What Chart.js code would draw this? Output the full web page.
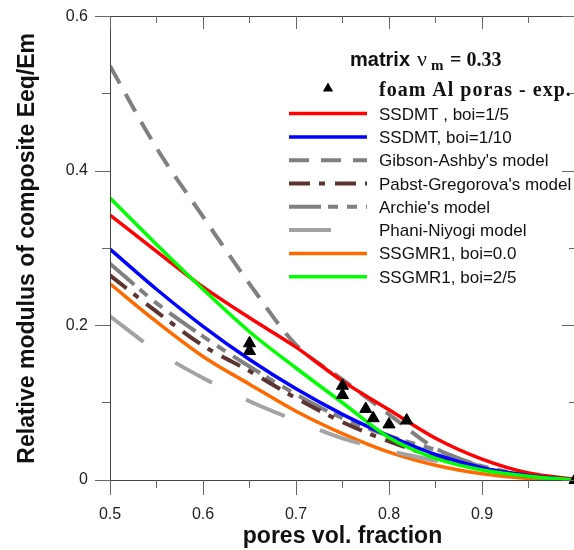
<!DOCTYPE html>
<html>
<head>
<meta charset="utf-8">
<script src="https://cdn.jsdelivr.net/npm/chart.js@4.4.1/dist/chart.umd.min.js"></script>
<style>
  html, body { margin: 0; padding: 0; background: #fff; overflow: hidden; }
  #wrap { position: relative; width: 585px; height: 550px; }
  #wrap canvas { position: absolute; left: 0; top: 0; display: block; }
  #frameLayer { pointer-events: none; }
</style>
</head>
<body>
<div id="wrap">
  <canvas id="modChart" width="585" height="550"></canvas>
  <canvas id="frameLayer" width="585" height="550"></canvas>
</div>
<script>
// ============ data ============
const poreFrac = [0.5, 0.55, 0.6, 0.65, 0.7, 0.75, 0.8, 0.85, 0.9, 0.95, 1.0];

const ssdmt5      = [0.343, 0.296, 0.250, 0.210, 0.172, 0.128, 0.091, 0.054, 0.027, 0.009, 0.001];
const ssdmt10     = [0.299, 0.247, 0.199, 0.156, 0.118, 0.085, 0.057, 0.033, 0.016, 0.006, 0.000];
const gibsonAshby = [0.536, 0.430, 0.341, 0.254, 0.175, 0.130, 0.085, 0.041, 0.017, 0.005, 0.000];
const pabstGreg   = [0.265, 0.218, 0.174, 0.141, 0.106, 0.075, 0.050, 0.030, 0.015, 0.005, 0.000];
const archie      = [0.280, 0.229, 0.186, 0.147, 0.111, 0.080, 0.057, 0.039, 0.018, 0.006, 0.000];
const phaniNiyogi = [0.212, 0.167, 0.132, 0.102, 0.077, 0.054, 0.038, 0.025, 0.014, 0.006, 0.000];
const ssgmr0      = [0.254, 0.205, 0.160, 0.124, 0.089, 0.060, 0.036, 0.019, 0.008, 0.002, 0.000];
const ssgmr25     = [0.365, 0.305, 0.247, 0.192, 0.145, 0.100, 0.055, 0.028, 0.013, 0.005, 0.000];

const expX = [0.65, 0.65, 0.75, 0.75, 0.775, 0.783, 0.800, 0.819, 1.0];
const expY = [0.177, 0.167, 0.122, 0.110, 0.092, 0.080, 0.072, 0.077, 0.0];

const xMajorTicks = [0.5, 0.6, 0.7, 0.8, 0.9, 1.0];
const xMinorTicks = [0.55, 0.65, 0.75, 0.85, 0.95];
const yMajorTicks = [0, 0.2, 0.4, 0.6];
const yMinorTicks = [0.1, 0.3, 0.5];

const pts = ys => ys.map((y, i) => ({ x: poreFrac[i], y }));

// ============ datasets (legend order) ============
function curve(label, data, color, width, dash, order) {
    return {
        label, data: pts(data),
        borderColor: color, backgroundColor: color,
        borderWidth: width, borderDash: dash,
        borderCapStyle: 'butt',
        pointRadius: 0, fill: false,
        cubicInterpolationMode: 'monotone',
        order,
    };
}

const datasets = [
    {
        label: 'foam Al poras - exp.',
        data: expX.map((x, i) => ({ x, y: expY[i] })),
        showLine: false,
        pointStyle: 'triangle', pointRadius: 7,
        backgroundColor: '#000', borderColor: '#000', borderWidth: 1,
        clip: false, order: 0,
    },
    curve('SSDMT , boi=1/5', ssdmt5, '#ff0000', 3.5, [], 3),
    curve('SSDMT, boi=1/10', ssdmt10, '#0000ff', 3.5, [], 2),
    curve("Gibson-Ashby's model", gibsonAshby, '#808080', 4, [20, 12], 4),
    curve("Pabst-Gregorova's model", pabstGreg, '#5c3430', 4, [21, 9, 6, 10], 5),
    curve("Archie's model", archie, '#808080', 4, [32, 7, 10, 9, 10, 9], 6),
    curve('Phani-Niyogi model', phaniNiyogi, '#a3a3a3', 4, [42, 38], 7),
    curve('SSGMR1, boi=0.0', ssgmr0, '#ff6a00', 3.5, [], 8),
    curve('SSGMR1, boi=2/5', ssgmr25, '#00ff00', 3.5, [], 1),
];

// spaced text, one glyph at a time
function spacedText(ctx, text, x, y, gap) {
    for (const ch of text) {
        ctx.fillText(ch, x, y);
        x += ctx.measureText(ch).width + gap;
    }
}

// ============ in-plot legend ============
const legendPlugin = {
    id: 'plotLegend',
    afterDatasetsDraw(chart) {
        const ctx = chart.ctx;
        const a = chart.chartArea;
        const lx0 = a.left + 179, lx1 = a.left + 257, tx = a.left + 269;
        ctx.save();
        ctx.fillStyle = '#111';
        ctx.textBaseline = 'alphabetic';

        // title: matrix νm = 0.33
        const ty = a.top + 49;
        ctx.font = 'bold 20px "Liberation Sans", Arial, sans-serif';
        ctx.fillText('matrix', a.left + 240, ty);
        ctx.font = '22px "Liberation Serif", "Times New Roman", serif';
        ctx.fillText('ν', a.left + 307, ty);
        ctx.font = 'bold 15px "Liberation Serif", "Times New Roman", serif';
        ctx.fillText('m', a.left + 321, ty + 4);
        ctx.font = 'bold 20px "Liberation Serif", "Times New Roman", serif';
        ctx.fillText('= 0.33', a.left + 340, ty);

        // experimental marker row
        const exp = datasets[0];
        const ey = a.top + 72, cx = (lx0 + lx1) / 2, rad = 6;
        ctx.fillStyle = exp.backgroundColor;
        ctx.beginPath();
        ctx.moveTo(cx, ey - rad);
        ctx.lineTo(cx + rad * 0.866, ey + rad * 0.5);
        ctx.lineTo(cx - rad * 0.866, ey + rad * 0.5);
        ctx.closePath();
        ctx.fill();
        ctx.fillStyle = '#111';
        ctx.font = 'bold 20px "Liberation Serif", "Times New Roman", serif';
        spacedText(ctx, exp.label, tx, ey + 7, 1);

        // line rows
        ctx.font = '17px "Liberation Sans", Arial, sans-serif';
        datasets.slice(1).forEach((ds, i) => {
            const ly = a.top + 97 + i * 23.3;
            ctx.save();
            ctx.strokeStyle = ds.borderColor;
            ctx.lineWidth = ds.borderWidth;
            ctx.setLineDash(ds.borderDash);
            ctx.lineCap = 'butt';
            ctx.beginPath();
            ctx.moveTo(lx0, ly); ctx.lineTo(lx1, ly);
            ctx.stroke();
            ctx.restore();
            ctx.fillText(ds.label, tx, ly + 6);
        });
        ctx.restore();
    }
};

// ============ frame + ticks on an overlay layer, placed by the chart's scales ============
function drawFrame(chart) {
    const layer = document.getElementById('frameLayer');
    const ctx = layer.getContext('2d');
    const a = chart.chartArea;
    const xs = chart.scales.x, ys = chart.scales.y;
    const l = Math.floor(a.left), r = Math.floor(a.right);
    const t = Math.floor(a.top), b = Math.floor(a.bottom);

    ctx.clearRect(0, 0, layer.width, layer.height);
    ctx.fillStyle = '#444';
    ctx.fillRect(l, t, r - l + 1, 1);           // top
    ctx.fillRect(r, t, 1, b - t + 1);           // right
    ctx.fillRect(l, t, 1, b - t + 1);           // left
    ctx.fillRect(l - 15, b, r - l + 16, 1);     // bottom

    ctx.fillStyle = '#666';
    xMajorTicks.forEach(v => {
        const px = Math.floor(xs.getPixelForValue(v));
        ctx.fillRect(px, b, 1, 15);
        ctx.fillRect(px, t, 1, 13);
    });
    xMinorTicks.forEach(v => {
        const px = Math.floor(xs.getPixelForValue(v));
        ctx.fillRect(px, b, 1, 8);
        ctx.fillRect(px, t, 1, 7);
    });
    yMajorTicks.forEach(v => {
        const py = Math.floor(ys.getPixelForValue(v));
        ctx.fillRect(l - 15, py, 15, 1);
        ctx.fillRect(r - 13, py, 13, 1);
    });
    yMinorTicks.forEach(v => {
        const py = Math.floor(ys.getPixelForValue(v));
        ctx.fillRect(l - 8, py, 8, 1);
        ctx.fillRect(r - 6, py, 6, 1);
    });
}

// ============ chart ============
const tickFont = { family: "'Liberation Sans', Arial, sans-serif", size: 16 };
const titleFont = { family: "'Liberation Sans', Arial, sans-serif", size: 23, weight: 'bold' };

let modChart = null;
try {
    modChart = new Chart(document.getElementById('modChart'), {
        type: 'line',
        data: { datasets },
        plugins: [legendPlugin],
        options: {
            responsive: false,
            animation: false,
            devicePixelRatio: 1,
            layout: { padding: { left: 0, right: 3, top: 12, bottom: 0 } },
            plugins: { legend: { display: false }, tooltip: { enabled: false } },
            scales: {
                x: {
                    type: 'linear', min: 0.5, max: 1.0,
                    afterFit: s => { s.height = 70; },
                    border: { display: true, color: '#333', width: 1 },
                    grid: { drawOnChartArea: false, drawTicks: true, tickLength: 15, tickColor: '#666' },
                    ticks: {
                        stepSize: 0.1, autoSkip: false, maxRotation: 0, padding: 10,
                        color: '#222', font: tickFont,
                        callback: v => v < 0.99 ? v.toFixed(1) : '',
                    },
                    title: { display: true, text: 'pores vol. fraction', color: '#111',
                             font: titleFont, padding: { top: 0, bottom: 0 } },
                },
                y: {
                    type: 'linear', min: 0, max: 0.6,
                    afterFit: s => { s.width = 110; },
                    border: { display: true, color: '#333', width: 1 },
                    grid: { drawOnChartArea: false, drawTicks: true, tickLength: 15, tickColor: '#666' },
                    ticks: {
                        stepSize: 0.2, autoSkip: false, padding: 7,
                        color: '#222', font: tickFont,
                        callback: v => Math.abs(v) < 1e-9 ? '0' : v.toFixed(1),
                    },
                    title: { display: true, text: 'Relative modulus of composite Eeq/Em', color: '#111',
                             font: titleFont, padding: { top: 14, bottom: 0 } },
                },
            },
        },
    });
} finally {
    const inst = modChart || Chart.getChart('modChart');
    if (inst && inst.chartArea) drawFrame(inst);
}
</script>
</body>
</html>
